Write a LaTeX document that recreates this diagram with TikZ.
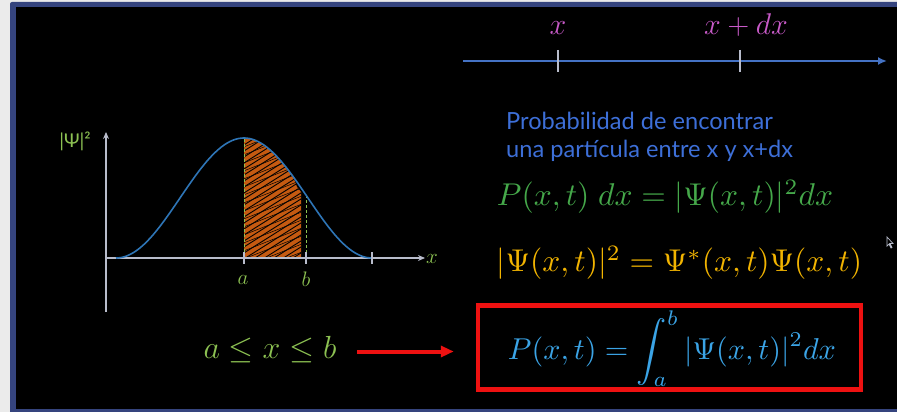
\RequirePackage{fix-cm}
\documentclass[tikz,border=0pt]{standalone}
\usepackage{fontspec}
\usepackage{graphicx}
\newfontfamily\lato{Lato}
\usetikzlibrary{arrows.meta}
\definecolor{outergray}{HTML}{EBEBEB}
\definecolor{frameblue}{HTML}{35447E}
\definecolor{axisblue}{HTML}{4472C4}
\definecolor{magent}{HTML}{C85AC8}
\definecolor{txtblue}{HTML}{3D6FD8}
\definecolor{eqgreen}{HTML}{45A84A}
\definecolor{eqyellow}{HTML}{F2B400}
\definecolor{eqcyan}{HTML}{3BA4E6}
\definecolor{lgreen}{HTML}{8CC152}
\definecolor{curveblue}{HTML}{2E75B6}
\definecolor{axgray}{HTML}{B8BCCB}
\definecolor{hatchorange}{HTML}{C55A11}
\definecolor{boxred}{HTML}{EE1111}
\tikzset{
  axisline/.style={axgray, line width=1.8pt, -{Stealth[length=7pt,width=6pt]}},
  tickline/.style={axgray, line width=2pt},
  dashgreen/.style={lgreen, line width=1pt, dash pattern=on 3pt off 2pt},
  lbl/.style={inner sep=0pt},
}
\begin{document}
\begin{tikzpicture}[x=1pt,y=-1pt]
\useasboundingbox (0,0) rectangle (897,412);
% background and frame
\fill[outergray] (0,0) rectangle (897,412);
\fill[frameblue, rounded corners=2pt] (10,2) rectangle (905,420);
\fill[black] (16,7) rectangle (897,409);

% top number line
\coordinate (tl0) at (463,61);
\coordinate (tl1) at (887,61);
\draw[axisblue, line width=2pt, -{Latex[length=9pt,width=8pt]}] (tl0) -- (tl1);
\coordinate (tx1a) at (558,50); \coordinate (tx1b) at (558,72);
\coordinate (tx2a) at (740,50); \coordinate (tx2b) at (740,72);
\draw[axgray, line width=2.5pt] (tx1a) -- (tx1b);
\draw[axgray, line width=2.5pt] (tx2a) -- (tx2b);
\node[lbl, text=magent, font=\fontsize{30}{32}\selectfont] (lx) at (558,28) {$x$};
\node[lbl, text=magent, font=\fontsize{30}{32}\selectfont] (lxdx) at (746,25) {$x+dx$};

% description text
\node[lbl, anchor=base west, text=txtblue, align=left, font=\lato\fontsize{23.6}{28}\selectfont] (desc) at (506,157)
  {Probabilidad de encontrar\\una partícula entre x y x+dx};

% equations
\node[lbl, text=eqgreen] (eq1) at (665,197)
  {\resizebox{336pt}{!}{$P(x,t)\;dx=|\Psi(x,t)|^2dx$}};
\node[lbl, text=eqyellow] (eq2) at (679.5,263)
  {\resizebox{365pt}{!}{$|\Psi(x,t)|^2=\Psi^{*}(x,t)\Psi(x,t)$}};
\node[draw=boxred, line width=4.5pt, minimum width=383pt, minimum height=84pt, inner sep=0pt] (box) at (669.5,347.5) {};
\node[lbl, text=eqcyan] (eq3) at (672,349)
  {\resizebox{328pt}{!}{$P(x,t)=\displaystyle\int_a^b|\Psi(x,t)|^2dx$}};

% inequality and arrow
\node[lbl, text=lgreen, font=\fontsize{32}{36}\selectfont] (ineq) at (270,350) {$a\le x\le b$};
\draw[boxred, line width=4pt, shorten >=22pt, -{Triangle[length=13pt,width=11pt]}] (357,351.5) -- (box.west |- 0,351.5);

% graph
\coordinate (O) at (106,258);
\coordinate (ybot) at (106,312);
\coordinate (ytop) at (106,132);
\coordinate (xend) at (425,258);
% shaded region
\begin{scope}
  \clip plot[domain=0:49, samples=40] ({244+\x},{258-60*(1+cos(\x*1.40625))})
    -- (297,187) -- (301,192) -- (301,258) -- (244,258) -- cycle;
  \fill[hatchorange] (240,130) rectangle (310,260);
  \foreach \i in {0,...,30} {
    \draw[black, line width=0.9pt] (236,{132+6*\i}) -- (312,{132+6*\i-48});
  }
  \foreach \i in {0,...,22} {
    \draw[black, line width=0.5pt] (236,{150+8*\i}) -- (312,{150+8*\i-30});
  }
\end{scope}
\draw[dashgreen] (244,139) -- (244,258);
\draw[dashgreen] (306,195) -- (306,258);
\draw[axisline] (ybot) -- (ytop);
\draw[axisline] (O) -- (xend);
\draw[curveblue, line width=1.6pt] plot[domain=-128:128, samples=120] ({244+\x},{258-60*(1+cos(\x*1.40625))});
\foreach \t in {244,306,372} {
  \draw[tickline] (\t,252) -- (\t,264);
}
\node[lbl, text=lgreen, font=\fontsize{21}{24}\selectfont] (la) at (243,280) {$a$};
\node[lbl, text=lgreen, font=\fontsize{21}{24}\selectfont] (lb) at (306,279) {$b$};
\node[lbl, text=lgreen, font=\fontsize{21}{24}\selectfont] (lxx) at (432,259) {$x$};
\node[lbl, text=lgreen, font=\lato\fontsize{19}{22}\selectfont] (lpsi) at (75,141) {|Ψ|²};

% mouse pointer
\draw[axgray, line width=0.7pt, fill=black] (887,237) -- (887,246) -- (889,244) -- (891,248) -- (892,247.5) -- (890,243.5) -- (893,243.5) -- cycle;
\end{tikzpicture}
\end{document}
